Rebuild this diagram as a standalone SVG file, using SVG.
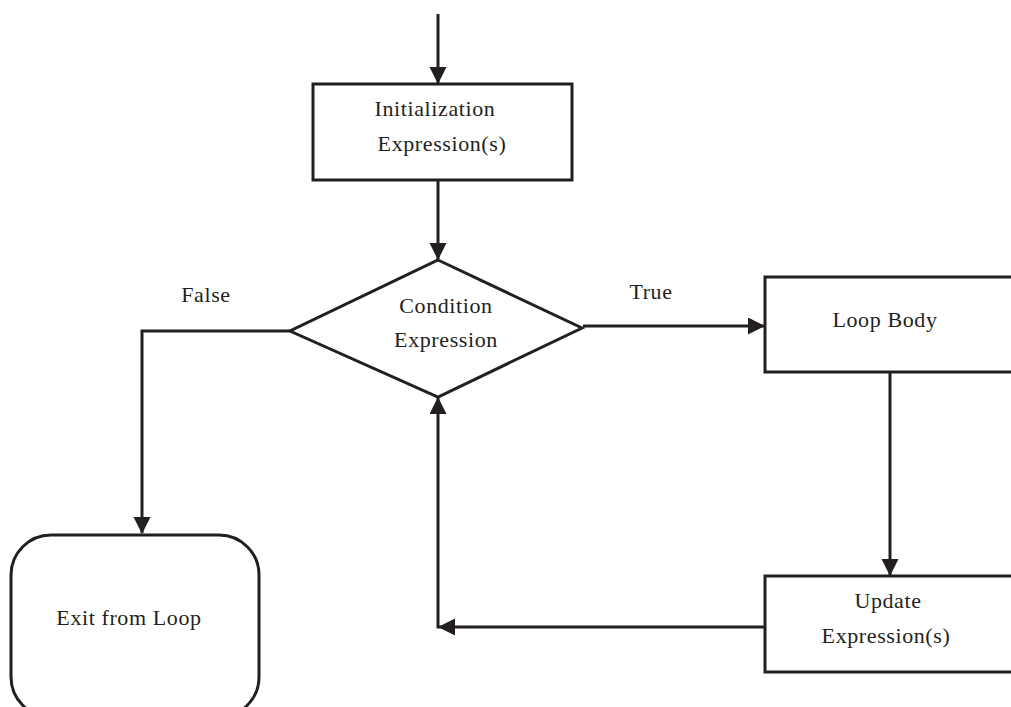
<svg xmlns="http://www.w3.org/2000/svg" width="1011" height="707" viewBox="0 0 1011 707">
<defs>
<style>
.box{fill:#fff;stroke:#231f20;stroke-width:3}
.ln{fill:none;stroke:#231f20;stroke-width:3;marker-end:url(#ah)}
.pl{fill:none;stroke:#231f20;stroke-width:3}
.t{font-family:"Liberation Serif","Times New Roman",serif;font-size:22px;fill:#231f20;text-anchor:middle;letter-spacing:0.6px}
</style>
<marker id="ah" markerUnits="userSpaceOnUse" markerWidth="18" markerHeight="18" refX="16" refY="8.5" orient="auto">
<path d="M0,0 L17,8.5 L0,17 z" fill="#231f20"/>
</marker>
</defs>
<rect width="1011" height="707" fill="#fff"/>
<g id="connectors">
<line class="ln" x1="438" y1="14" x2="438" y2="83"/>
<line class="ln" x1="438" y1="180" x2="438" y2="259"/>
<polyline class="ln" points="290,331 142,331 142,533"/>
<line class="ln" x1="583" y1="326" x2="764" y2="326"/>
<line class="ln" x1="890" y1="372" x2="890" y2="575"/>
<line class="ln" x1="766" y1="627" x2="439" y2="627"/>
<line class="ln" x1="438" y1="628.5" x2="438" y2="398"/>
</g>
<g id="n-init">
<rect class="box" x="313" y="84" width="259" height="96"/>
<text class="t" x="435" y="116">Initialization</text>
<text class="t" x="442" y="151">Expression(s)</text>
</g>
<g id="n-cond">
<polygon class="box" points="438,260 582,328 438,397 290,331"/>
<text class="t" x="446" y="313">Condition</text>
<text class="t" x="446" y="347">Expression</text>
</g>
<g id="l-false"><text class="t" x="206" y="302">False</text></g>
<g id="l-true"><text class="t" x="651" y="299">True</text></g>
<g id="n-body">
<rect class="box" x="765" y="277" width="260" height="95"/>
<text class="t" x="885" y="327">Loop Body</text>
</g>
<g id="n-update">
<rect class="box" x="765" y="576" width="260" height="96"/>
<text class="t" x="888" y="608">Update</text>
<text class="t" x="886" y="643">Expression(s)</text>
</g>
<g id="n-exit">
<rect class="box" x="11" y="535" width="248" height="182" rx="40" ry="40"/>
<text class="t" x="129" y="625">Exit from Loop</text>
</g>
</svg>
